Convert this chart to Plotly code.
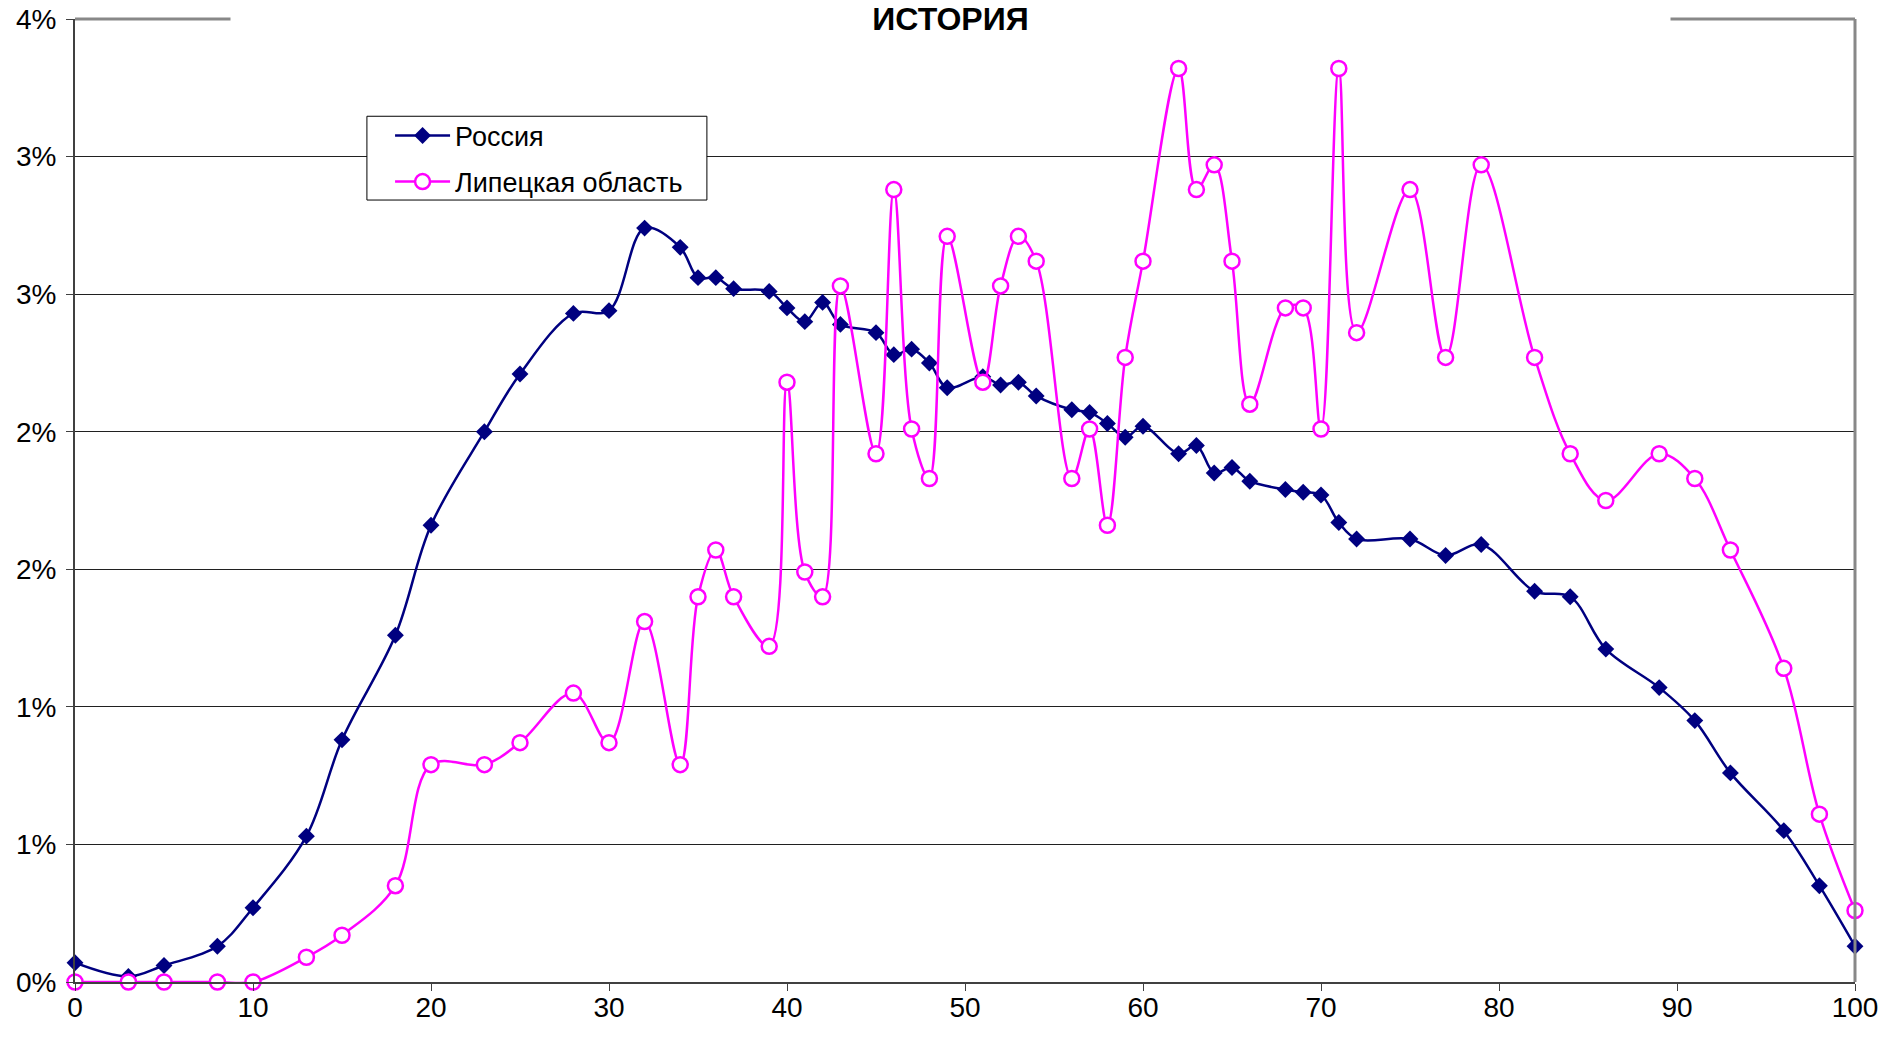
import plotly.graph_objects as go

# age (x) and share of population, % (y)
ages = [0, 3, 5, 8, 10, 13, 15, 18, 20, 23, 25, 28, 30, 32, 34, 35, 36, 37, 39, 40,
        41, 42, 43, 45, 46, 47, 48, 49, 51, 52, 53, 54, 56, 57, 58, 59, 60, 62, 63, 64,
        65, 66, 68, 69, 70, 71, 72, 75, 77, 79, 82, 84, 86, 89, 91, 93, 96, 98, 100]

russia = [0.07, 0.02, 0.06, 0.13, 0.27, 0.53, 0.88, 1.26, 1.66, 2.00, 2.21, 2.43, 2.44, 2.74,
          2.67, 2.56, 2.56, 2.52, 2.51, 2.45, 2.40, 2.47, 2.39, 2.36, 2.28, 2.30, 2.25, 2.16,
          2.20, 2.17, 2.18, 2.13, 2.08, 2.07, 2.03, 1.98, 2.02, 1.92, 1.95, 1.85, 1.87, 1.82,
          1.79, 1.78, 1.77, 1.67, 1.61, 1.61, 1.55, 1.59, 1.42, 1.40, 1.21, 1.07, 0.95, 0.76,
          0.55, 0.35, 0.13]

lipetsk = [0, 0, 0, 0, 0, 0.09, 0.17, 0.35, 0.79, 0.79, 0.87, 1.05, 0.87, 1.31, 0.79, 1.40,
           1.57, 1.40, 1.22, 2.18, 1.49, 1.40, 2.53, 1.92, 2.88, 2.01, 1.83, 2.71, 2.18, 2.53,
           2.71, 2.62, 1.83, 2.01, 1.66, 2.27, 2.62, 3.32, 2.88, 2.97, 2.62, 2.10, 2.45, 2.45,
           2.01, 3.32, 2.36, 2.88, 2.27, 2.97, 2.27, 1.92, 1.75, 1.92, 1.83, 1.57, 1.14, 0.61,
           0.26]

y_ticks = [0, 0.5, 1.0, 1.5, 2.0, 2.5, 3.0, 3.5]
y_labels = ["0%", "1%", "1%", "2%", "2%", "3%", "3%", "4%"]
x_ticks = [0, 10, 20, 30, 40, 50, 60, 70, 80, 90, 100]

FONT = "Arial, Liberation Sans, sans-serif"

fig = go.Figure()

fig.add_trace(go.Scatter(
    x=ages, y=russia, name="Россия", mode="lines+markers",
    line=dict(color="#000080", width=2.5, shape="spline", smoothing=1),
    marker=dict(symbol="diamond", size=13, color="#000080"),
    cliponaxis=False, legendgroup="a"))

fig.add_trace(go.Scatter(
    x=ages, y=lipetsk, name="Липецкая область", mode="lines+markers",
    line=dict(color="#FF00FF", width=2.5, shape="spline", smoothing=1),
    marker=dict(symbol="circle", size=15, color="white",
                line=dict(color="#FF00FF", width=2.5)),
    cliponaxis=False, legendgroup="b"))

fig.update_layout(
    width=1892, height=1037,
    margin=dict(l=75, r=37, t=19, b=55),
    paper_bgcolor="white", plot_bgcolor="white",
    font=dict(family=FONT, size=28, color="black"),
    showlegend=True,
    legend=dict(x=0.177, y=0.904, xanchor="left", yanchor="top",
                borderwidth=0, bgcolor="rgba(0,0,0,0)",
                font=dict(size=27), itemwidth=55, tracegroupgap=8,
                traceorder="grouped"),
    xaxis=dict(range=[0, 100], tickvals=x_ticks, showgrid=False, zeroline=False,
               showline=True, linecolor="#404040", linewidth=2,
               ticks="outside", ticklen=7, tickcolor="#404040",
               ticklabelstandoff=-8, ticklabeloverflow="allow",
               tickfont=dict(size=28), automargin=False),
    yaxis=dict(range=[0, 3.5], tickvals=y_ticks, ticktext=y_labels,
               showgrid=True, gridcolor="#202020", gridwidth=1, zeroline=False,
               showline=True, linecolor="#404040", linewidth=2,
               ticks="outside", ticklen=7, tickcolor="#404040",
               ticklabelstandoff=4, ticklabeloverflow="allow",
               tickfont=dict(size=28), automargin=False),
    shapes=[
        dict(type="line", xref="paper", yref="paper", x0=0, x1=1, y0=1, y1=1,
             line=dict(color="#888888", width=3), layer="above"),
        dict(type="line", xref="paper", yref="paper", x0=1, x1=1, y0=0, y1=1,
             line=dict(color="#888888", width=3), layer="above"),
        # legend frame
        dict(type="rect", xref="paper", yref="paper", x0=0.164, x1=0.355,
             y0=0.812, y1=0.899, line=dict(color="black", width=1),
             fillcolor="white", layer="above"),
    ],
    annotations=[
        dict(text="<b>ИСТОРИЯ</b>", xref="paper", yref="paper", x=0.4916, y=0.9995,
             xanchor="center", yanchor="middle", showarrow=False,
             font=dict(size=32, family=FONT, color="black"),
             bgcolor="white", width=1437, height=30),
    ],
)

# drop the default page margin so the figure fills the window exactly
fig.write_html("out.html", config={"displayModeBar": False},
               post_script="document.body.style.margin='0';")
